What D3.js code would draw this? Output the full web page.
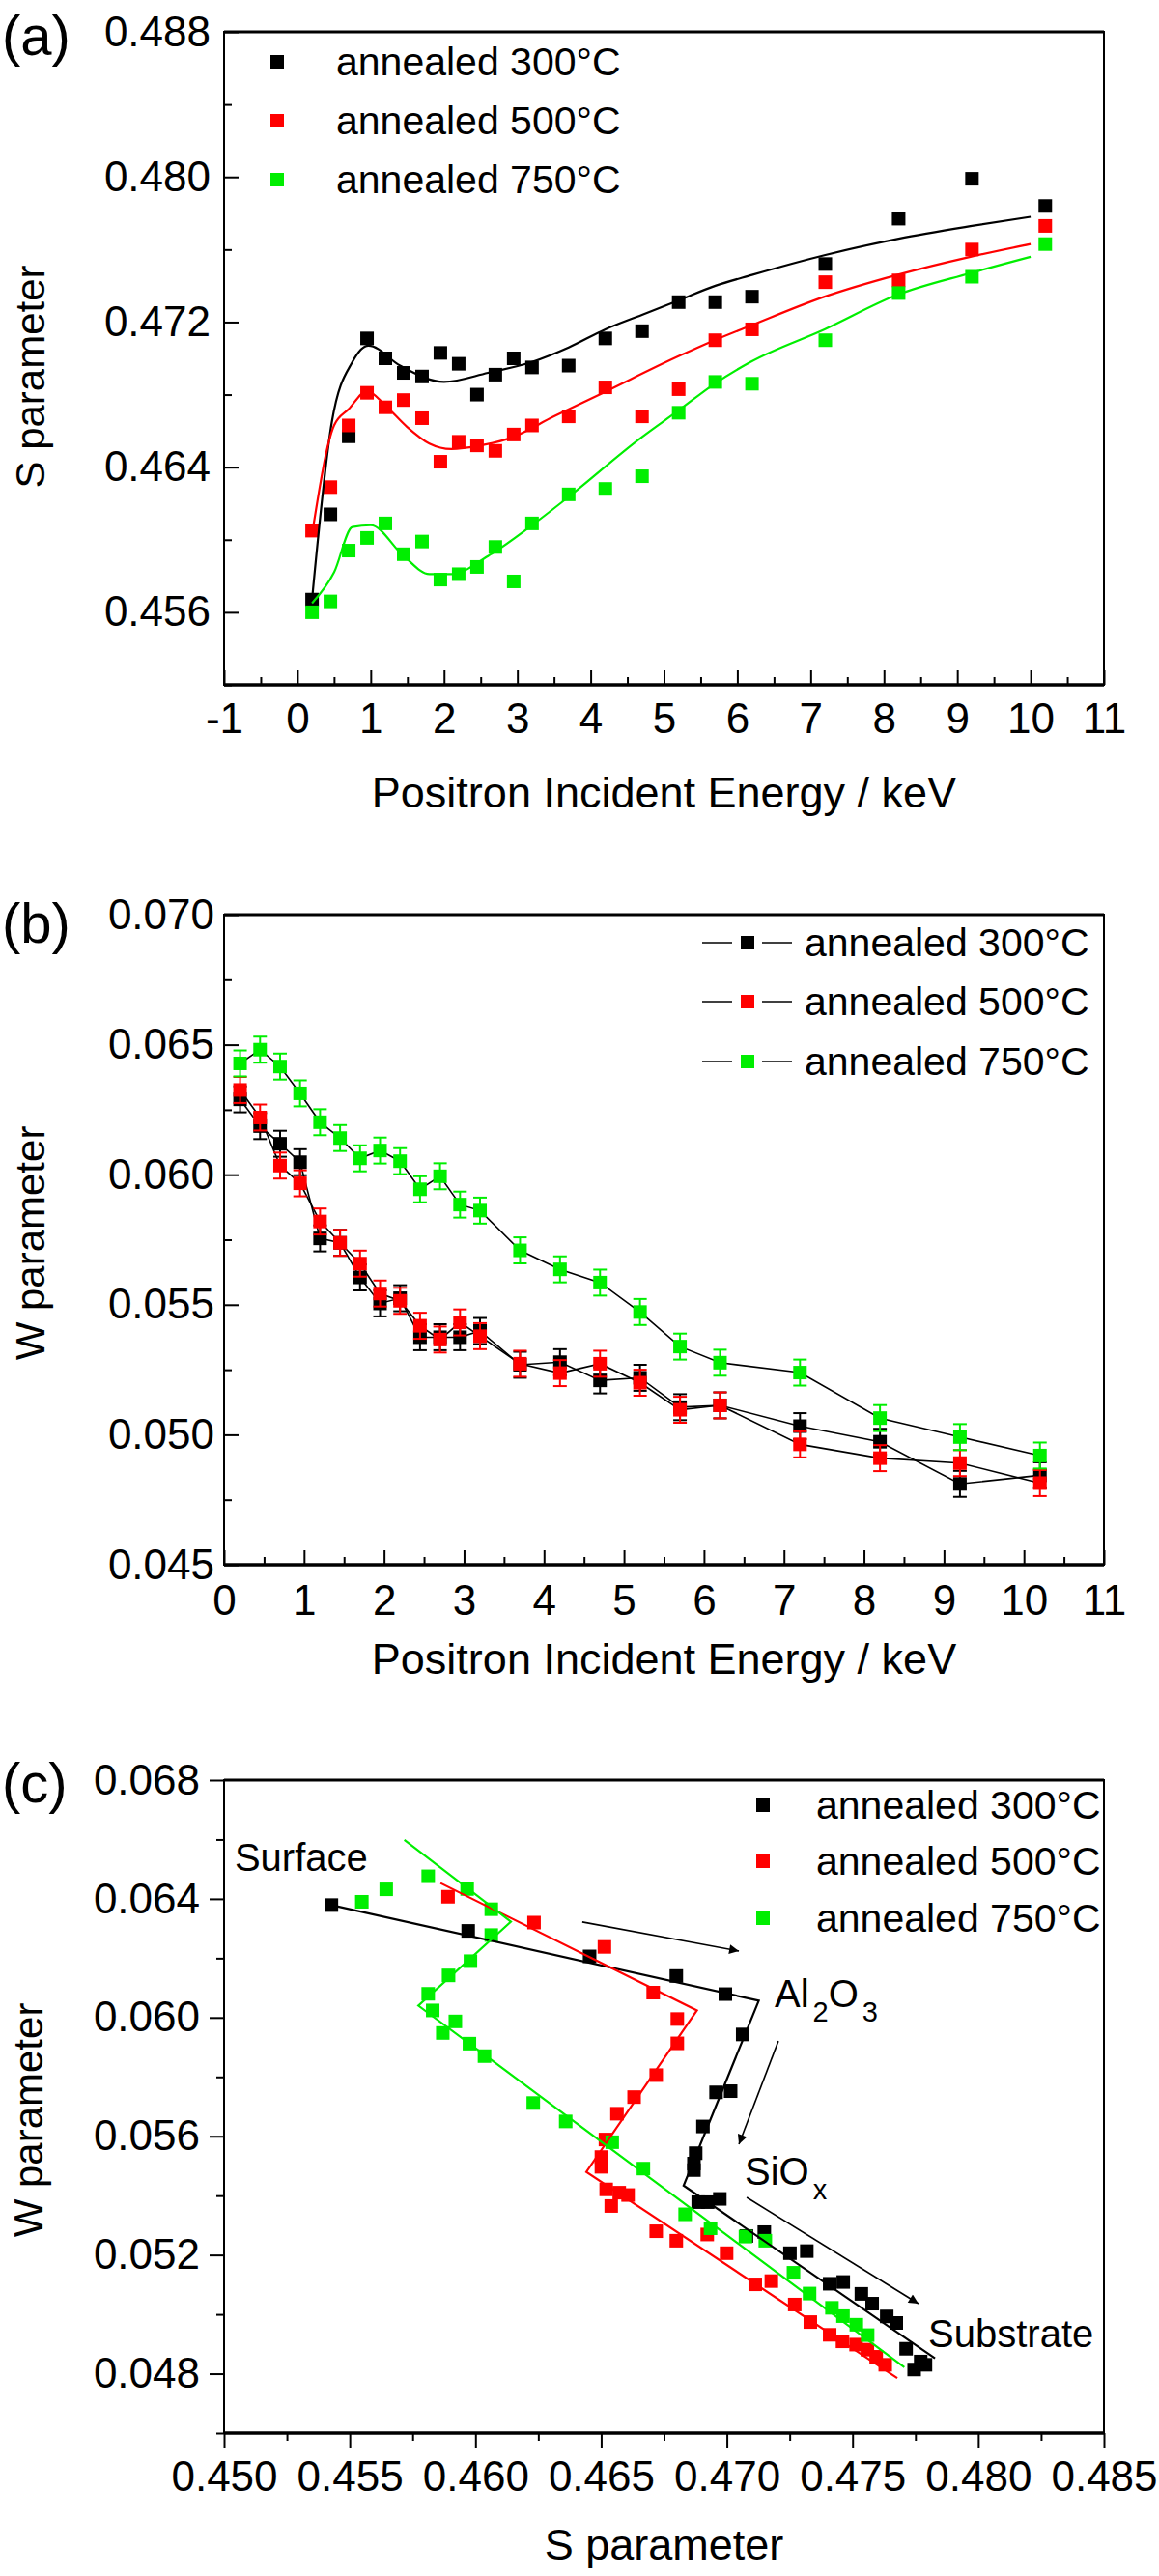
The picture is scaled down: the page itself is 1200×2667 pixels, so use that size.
<!DOCTYPE html>
<html><head><meta charset="utf-8">
<script src="https://cdn.jsdelivr.net/npm/d3@7"></script>
<style>
body{margin:0;background:#fff}
svg{display:block}
text{font-family:"Liberation Sans",Arial,Helvetica,sans-serif;fill:#000}
</style>
</head><body>
<svg id="chart" width="1200" height="2667"></svg>
<script>
// ---------------- data ----------------
const seriesLabels = ["annealed 300\u00B0C", "annealed 500\u00B0C", "annealed 750\u00B0C"];
const seriesColors = ["#000000", "#ff0000", "#00ee00"];

// Panel (a): S parameter vs energy
const energies = [0.2,0.45,0.7,0.95,1.2,1.45,1.7,1.95,2.2,2.45,2.7,2.95,3.2,3.7,4.2,4.7,5.2,5.7,6.2,7.2,8.2,9.2,10.2];
const sA300 = [0.4567,0.4614,0.4657,0.4711,0.4700,0.4692,0.4690,0.4703,0.4697,0.4680,0.4691,0.4700,0.4695,0.4696,0.4711,0.4715,0.4731,0.4731,0.4734,0.4752,0.4777,0.4799,0.4784];
const sA500 = [0.4605,0.4629,0.4663,0.4681,0.4673,0.4677,0.4667,0.4643,0.4654,0.4652,0.4649,0.4658,0.4663,0.4668,0.4684,0.4668,0.4683,0.4710,0.4716,0.4742,0.4743,0.4760,0.4773];
const sA750 = [0.4560,0.4566,0.4594,0.4601,0.4609,0.4592,0.4599,0.4578,0.4581,0.4585,0.4596,0.4577,0.4609,0.4625,0.4628,0.4635,0.4670,0.4687,0.4686,0.4710,0.4736,0.4745,0.4763];

const fitE300 = [0.2,0.47,0.75,0.97,1.4,2.0,2.6,3.2,3.7,4.2,4.7,5.2,5.7,6.2,7.2,8.2,9.2,10.0];
const fitS300 = [0.4567,0.4665,0.4698,0.4707,0.4696,0.4687,0.4692,0.4698,0.4706,0.4716,0.4724,0.4732,0.4740,0.4746,0.4757,0.4766,0.4773,0.4778];
const fitE500 = [0.2,0.5,0.7,0.95,1.2,1.5,1.8,2.1,2.5,2.9,3.5,4.17,5.19,5.69,6.18,7.19,8.18,9.18,10.0];
const fitS500 = [0.4603,0.4663,0.4672,0.4682,0.4674,0.4662,0.4653,0.4650,0.4652,0.4656,0.4668,0.4681,0.4701,0.4710,0.4718,0.4734,0.4746,0.4756,0.4763];
const fitE750 = [0.2,0.5,0.75,1.0,1.45,1.8,2.1,2.6,3.2,3.68,4.68,5.19,5.69,6.18,7.19,8.18,9.18,10.0];
const fitS750 = [0.4565,0.4582,0.4607,0.4608,0.4591,0.4581,0.4581,0.4591,0.4608,0.4623,0.4656,0.4671,0.4686,0.4698,0.4716,0.4735,0.4747,0.4756];

// Panel (b): W parameter vs energy
const wB300 = [0.0629,0.06187,0.06119,0.06048,0.05755,0.05738,0.05605,0.05505,0.05525,0.05375,0.05375,0.05375,0.05399,0.05269,0.05279,0.05209,0.05219,0.05106,0.05113,0.05033,0.04973,0.04811,0.04844];
const wB500 = [0.06326,0.0622,0.06035,0.05967,0.0582,0.05738,0.05658,0.05543,0.05515,0.05419,0.05366,0.05432,0.05379,0.05273,0.05237,0.05273,0.052,0.05096,0.05113,0.04963,0.0491,0.04891,0.04814];
const wB750 = [0.06428,0.06481,0.06416,0.06313,0.06202,0.06141,0.06063,0.06093,0.06052,0.05944,0.05994,0.05885,0.05862,0.05709,0.05636,0.05585,0.05472,0.05339,0.05277,0.05239,0.05064,0.04991,0.0492];
const wErr = 0.0005;

// Panel (c): W vs S
const sC300 = [0.45427,0.45971,0.46454,0.46799,0.46994,0.47063,0.46957,0.47015,0.46905,0.46876,0.46869,0.46869,0.46886,0.46924,0.46972,0.47078,0.47149,0.47251,0.47318,0.47409,0.47463,0.47535,0.47578,0.47636,0.47674,0.47713,0.47771,0.47745,0.47790];
const wC300 = [0.06379,0.06292,0.06206,0.06140,0.06079,0.05943,0.05748,0.05752,0.05633,0.05543,0.05508,0.05486,0.05378,0.05378,0.05389,0.05264,0.05277,0.05206,0.05213,0.05103,0.05109,0.05069,0.05036,0.04993,0.04971,0.04884,0.04841,0.04814,0.04830];
const sC500 = [0.45891,0.46233,0.46513,0.46707,0.46803,0.46803,0.46719,0.46631,0.46563,0.46517,0.46501,0.46501,0.46520,0.46572,0.46607,0.46540,0.46719,0.46799,0.46922,0.46999,0.47113,0.47177,0.47270,0.47332,0.47409,0.47460,0.47514,0.47559,0.47594,0.47630];
const wC500 = [0.06407,0.06320,0.06238,0.06084,0.05995,0.05913,0.05806,0.05732,0.05676,0.05589,0.05530,0.05497,0.05421,0.05410,0.05402,0.05365,0.05280,0.05248,0.05269,0.05206,0.05101,0.05112,0.05033,0.04974,0.04931,0.04909,0.04898,0.04881,0.04857,0.04830];
const sC750 = [0.45548,0.45645,0.45812,0.45967,0.46063,0.46063,0.45980,0.45893,0.45812,0.45830,0.45920,0.45870,0.45976,0.46036,0.46230,0.46359,0.46544,0.46668,0.46834,0.46935,0.47074,0.47153,0.47265,0.47329,0.47418,0.47462,0.47515,0.47560];
const wC750 = [0.06390,0.06432,0.06476,0.06433,0.06365,0.06278,0.06190,0.06142,0.06080,0.06024,0.05987,0.05948,0.05912,0.05870,0.05712,0.05650,0.05580,0.05491,0.05337,0.05290,0.05262,0.05248,0.05140,0.05070,0.05022,0.04994,0.04965,0.04930];

const fitSC300 = [0.45427,0.47127,0.46828,0.47828];
const fitWC300 = [0.06379,0.06057,0.05434,0.04852];
const fitSC500 = [0.45861,0.46881,0.46441,0.47678];
const fitWC500 = [0.06453,0.06024,0.05480,0.04785];
const fitSC750 = [0.45717,0.46141,0.45773,0.47706];
const fitWC750 = [0.06599,0.06323,0.06040,0.04822];

// annotations in panel (c), data units
const annotText = [
  {s:0.45042, w:0.06494, parts:[["Surface",0]]},
  {s:0.47190, w:0.06035, parts:[["Al",0],["2",1],["O",0],["3",1]]},
  {s:0.47071, w:0.05436, parts:[["SiO",0],["x",1]]},
  {s:0.47801, w:0.04890, parts:[["Substrate",0]]}
];
const arrowsC = [
  {s0:0.46425, w0:0.06322, s1:0.47048, w1:0.06224},
  {s0:0.47205, w0:0.05921, s1:0.47048, w1:0.05573},
  {s0:0.47079, w0:0.05394, s1:0.47762, w1:0.05036}
];

// tick definitions
const ticksAx = d3.range(-1, 12, 1), ticksAxMinor = d3.range(-0.5, 11, 1);
const ticksAy = [0.456,0.464,0.472,0.480,0.488], ticksAyMinor = [0.452,0.460,0.468,0.476,0.484];
const ticksBx = d3.range(0, 12, 1), ticksBxMinor = d3.range(0.5, 11, 1);
const ticksBy = [0.045,0.050,0.055,0.060,0.065,0.070], ticksByMinor = [0.0475,0.0525,0.0575,0.0625,0.0675];
const ticksCx = [0.450,0.455,0.460,0.465,0.470,0.475,0.480,0.485], ticksCxMinor = [0.4525,0.4575,0.4625,0.4675,0.4725,0.4775,0.4825];
const ticksCy = [0.048,0.052,0.056,0.060,0.064,0.068], ticksCyMinor = [0.046,0.050,0.054,0.058,0.062,0.066];

// ---------------- layout ----------------
const svg = d3.select("#chart");
svg.append("rect").attr("width",1200).attr("height",2667).attr("fill","#fff");
const L = 232, R = 1143;
const pA = {top:33, bottom:709}, pB = {top:947, bottom:1620}, pC = {top:1843, bottom:2519};

const xA = d3.scaleLinear([-1, 11], [L, R]);
const yA = d3.scaleLinear([0.452, 0.488], [pA.bottom, pA.top]);
const xB = d3.scaleLinear([0, 11], [L, R]);
const yB = d3.scaleLinear([0.045, 0.070], [pB.bottom, pB.top]);
const xC = d3.scaleLinear([0.450, 0.485], [L, R]);
const yC = d3.scaleLinear([0.046, 0.068], [pC.bottom, pC.top]);

const TICKFS = 44;

function axes(x, y, p, o) {
  const dir = o.inward ? -1 : 1;
  const g = svg.append("g");
  const style = sel => {
    sel.select(".domain").remove();
    sel.attr("font-size", TICKFS).attr("font-family", '"Liberation Sans",Arial,sans-serif');
    sel.selectAll("line").attr("stroke", "#000").attr("stroke-width", 2);
  };
  g.append("g").attr("transform", `translate(0,${p.bottom})`)
    .call(d3.axisBottom(x).tickValues(o.xMinor).tickSize(dir*8).tickFormat("")).call(style);
  g.append("g").attr("transform", `translate(0,${p.bottom})`)
    .call(d3.axisBottom(x).tickValues(o.xMajor).tickSize(dir*15).tickPadding(o.padX).tickFormat(o.fmtX)).call(style);
  g.append("g").attr("transform", `translate(${L},0)`)
    .call(d3.axisLeft(y).tickValues(o.yMinor).tickSize(dir*8).tickFormat("")).call(style);
  g.append("g").attr("transform", `translate(${L},0)`)
    .call(d3.axisLeft(y).tickValues(o.yMajor).tickSize(dir*15).tickPadding(o.padY).tickFormat(o.fmtY)).call(style);
  // frame
  g.append("rect").attr("x", L).attr("y", p.top).attr("width", R-L).attr("height", p.bottom-p.top)
    .attr("fill","none").attr("stroke","#000").attr("stroke-width",2);
  g.append("line").attr("x1", L).attr("x2", R).attr("y1", p.bottom).attr("y2", p.bottom)
    .attr("stroke","#000").attr("stroke-width",3.5);
  g.append("line").attr("x1", L).attr("x2", R).attr("y1", p.top).attr("y2", p.top)
    .attr("stroke","#000").attr("stroke-width",3);
}

function titles(label, labY, xTitle, xTitleY, yTitle, yTitleX, yTitleY) {
  svg.append("text").attr("x", 2).attr("y", labY).attr("font-size", 58).text(label);
  svg.append("text").attr("x", (L+R)/2).attr("y", xTitleY).attr("text-anchor","middle")
    .attr("font-size", 45).text(xTitle);
  svg.append("text").attr("transform", `translate(${yTitleX},${yTitleY}) rotate(-90)`)
    .attr("text-anchor","middle").attr("font-size", 42).text(yTitle);
}

const MS = 14; // marker size
function squares(g, xs, ys, x, y, color) {
  g.selectAll(null).data(xs.map((v,i)=>[v, ys[i]])).join("rect")
    .attr("x", d => x(d[0]) - MS/2).attr("y", d => y(d[1]) - MS/2)
    .attr("width", MS).attr("height", MS).attr("fill", color);
}

function legendRow(cx, cy, textX, color, label, withLines) {
  const g = svg.append("g");
  if (withLines) {
    g.append("line").attr("x1", cx-47).attr("x2", cx-16).attr("y1", cy).attr("y2", cy).attr("stroke","#000").attr("stroke-width",1.5);
    g.append("line").attr("x1", cx+15).attr("x2", cx+46).attr("y1", cy).attr("y2", cy).attr("stroke","#000").attr("stroke-width",1.5);
  }
  g.append("rect").attr("x", cx-MS/2).attr("y", cy-MS/2).attr("width", MS).attr("height", MS).attr("fill", color);
  g.append("text").attr("x", textX).attr("y", cy + 14).attr("font-size", 41).text(label);
}

const fmt3 = d3.format(".3f");

// ---------------- panel (a) ----------------
axes(xA, yA, pA, {inward:true, xMajor:ticksAx, xMinor:ticksAxMinor, yMajor:ticksAy, yMinor:ticksAyMinor,
  padX:19, padY:14, fmtX:d=>String(d), fmtY:fmt3});
titles("(a)", 57, "Positron Incident Energy / keV", 836, "S parameter", 46, 390);
{
  const g = svg.append("g");
  const sets = [sA300, sA500, sA750];
  const fits = [[fitE300, fitS300],[fitE500, fitS500],[fitE750, fitS750]];
  sets.forEach((s,i) => squares(g, energies, s, xA, yA, seriesColors[i]));
  const line = d3.line().x(d=>xA(d[0])).y(d=>yA(d[1])).curve(d3.curveMonotoneX);
  fits.forEach((f,i) => {
    g.append("path").attr("d", line(f[0].map((e,j)=>[e, f[1][j]])))
      .attr("fill","none").attr("stroke", seriesColors[i]).attr("stroke-width", 2.2);
  });
  [64,125,186].forEach((cy,i) => legendRow(287, cy, 348, seriesColors[i], seriesLabels[i], false));
}

// ---------------- panel (b) ----------------
axes(xB, yB, pB, {inward:true, xMajor:ticksBx, xMinor:ticksBxMinor, yMajor:ticksBy, yMinor:ticksByMinor,
  padX:21, padY:10, fmtX:d=>String(d), fmtY:fmt3});
titles("(b)", 976, "Positron Incident Energy / keV", 1733, "W parameter", 46, 1287);
{
  const g = svg.append("g");
  const sets = [wB300, wB500, wB750];
  const line = d3.line().x(d=>xB(d[0])).y(d=>yB(d[1]));
  sets.forEach(s => {
    g.append("path").attr("d", line(energies.map((e,j)=>[e, s[j]])))
      .attr("fill","none").attr("stroke","#000").attr("stroke-width",1.6);
  });
  sets.forEach((s,i) => {
    const eg = g.append("g").attr("stroke", seriesColors[i]).attr("stroke-width", 2);
    energies.forEach((e,j) => {
      const cx = xB(e), y0 = yB(s[j]-wErr), y1 = yB(s[j]+wErr);
      eg.append("line").attr("x1",cx).attr("x2",cx).attr("y1",y0).attr("y2",y1);
      eg.append("line").attr("x1",cx-7).attr("x2",cx+7).attr("y1",y0).attr("y2",y0);
      eg.append("line").attr("x1",cx-7).attr("x2",cx+7).attr("y1",y1).attr("y2",y1);
    });
    squares(g, energies, s, xB, yB, seriesColors[i]);
  });
  [976,1037,1099].forEach((cy,i) => legendRow(774, cy, 833, seriesColors[i], seriesLabels[i], true));
}

// ---------------- panel (c) ----------------
axes(xC, yC, pC, {inward:false, xMajor:ticksCx, xMinor:ticksCxMinor, yMajor:ticksCy, yMinor:ticksCyMinor,
  padX:14, padY:10, fmtX:fmt3, fmtY:fmt3});
titles("(c)", 1866, "S parameter", 2650, "W parameter", 44, 2195);
{
  const g = svg.append("g");
  const sets = [[sC300,wC300],[sC500,wC500],[sC750,wC750]];
  const fits = [[fitSC300,fitWC300],[fitSC500,fitWC500],[fitSC750,fitWC750]];
  sets.forEach((d,i) => squares(g, d[0], d[1], xC, yC, seriesColors[i]));
  const line = d3.line().x(d=>xC(d[0])).y(d=>yC(d[1]));
  fits.forEach((f,i) => {
    g.append("path").attr("d", line(f[0].map((s,j)=>[s, f[1][j]])))
      .attr("fill","none").attr("stroke", seriesColors[i]).attr("stroke-width", 2.2)
      .attr("stroke-linejoin","miter");
  });
  // arrows
  svg.append("defs").append("marker").attr("id","ah").attr("viewBox","0 0 10 10")
    .attr("refX",10).attr("refY",5).attr("markerWidth",16).attr("markerHeight",10)
    .attr("markerUnits","userSpaceOnUse").attr("orient","auto")
    .append("path").attr("d","M0,0 L10,5 L0,10 Z").attr("fill","#000");
  arrowsC.forEach(a => {
    g.append("line").attr("x1", xC(a.s0)).attr("y1", yC(a.w0)).attr("x2", xC(a.s1)).attr("y2", yC(a.w1))
      .attr("stroke","#000").attr("stroke-width",1.6).attr("marker-end","url(#ah)");
  });
  // annotations
  annotText.forEach(a => {
    const t = g.append("text").attr("x", xC(a.s)).attr("y", yC(a.w)).attr("font-size", 40);
    let sub = false;
    a.parts.forEach(p => {
      const ts = t.append("tspan").text(p[0]);
      if (p[1] && !sub) { ts.attr("dy", 15).attr("font-size", 29).attr("dx", 4); sub = true; }
      else if (!p[1] && sub) { ts.attr("dy", -15); sub = false; }
    });
  });
  [1869,1927,1986].forEach((cy,i) => legendRow(790, cy, 845, seriesColors[i], seriesLabels[i], false));
}
</script>
</body></html>
